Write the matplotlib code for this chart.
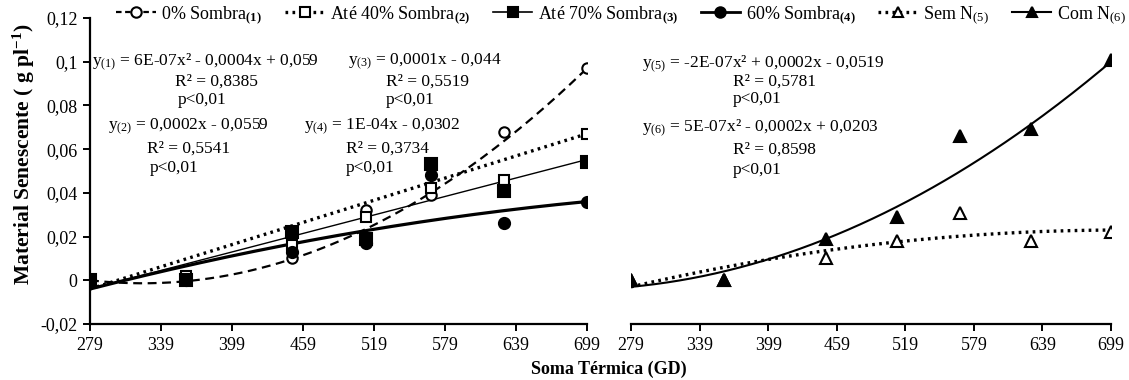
import numpy as np
import matplotlib
matplotlib.use("Agg")
import matplotlib.pyplot as plt
from matplotlib.lines import Line2D
from matplotlib.ticker import FuncFormatter, MultipleLocator

plt.rcParams["font.family"] = ["Liberation Serif", "DejaVu Serif"]
plt.rcParams["mathtext.fontset"] = "custom"
plt.rcParams["mathtext.rm"] = "Liberation Serif"
plt.rcParams["mathtext.it"] = "Liberation Serif:italic"
plt.rcParams["mathtext.bf"] = "Liberation Serif:bold"
plt.rcParams["axes.unicode_minus"] = False

# ── data ─────────────────────────────────────────────────────────────────────
soma_termica = [279, 360, 450, 512, 567, 629, 699]

sombra_0 = [0, 0, 0.010, 0.032, 0.039, 0.068, 0.097]
sombra_40 = [0, 0.002, 0.016, 0.029, 0.042, 0.046, 0.067]
sombra_70 = [0, 0, 0.022, 0.019, 0.053, 0.041, 0.054]
sombra_60 = [0, 0, 0.013, 0.017, 0.048, 0.026, 0.036]
sem_n = [0, 0, 0.010, 0.018, 0.031, 0.018, 0.022]
com_n = [0, 0, 0.019, 0.029, 0.066, 0.069, 0.101]

# trend line coefficients (x², x, 1) as drawn in the chart
# (the printed equations are rounded, these follow the drawn curves)
fit_0 = [6.975e-7, -4.512e-4, 0.0716]
fit_40 = [1.69e-4, -0.0511]
fit_70 = [1.41e-4, -0.0433]
fit_60 = [-1.032e-7, 1.962e-4, -0.0507]
fit_sem_n = [-1.4125e-7, 2.0e-4, -0.0478]
fit_com_n = [4.682e-7, -2.1267e-4, 0.0199]

x_ticks = [279, 339, 399, 459, 519, 579, 639, 699]

eq_left = [
    ("y$_{(1)}$ = 6E-07x² - 0,0004x + 0,059", "R² = 0,8385", "p<0,01"),
    ("y$_{(2)}$ = 0,0002x - 0,0559", "R² = 0,5541", "p<0,01"),
    ("y$_{(3)}$ = 0,0001x - 0,044", "R² = 0,5519", "p<0,01"),
    ("y$_{(4)}$ = 1E-04x - 0,0302", "R² = 0,3734", "p<0,01"),
]
eq_right = [
    ("y$_{(5)}$ = -2E-07x² + 0,0002x - 0,0519", "R² = 0,5781", "p<0,01"),
    ("y$_{(6)}$ = 5E-07x² - 0,0002x + 0,0203", "R² = 0,8598", "p<0,01"),
]

W, H = 1129, 380
fig = plt.figure(figsize=(W / 100, H / 100), dpi=100)


def px(x0, y0, x1, y1):
    return [x0 / W, 1 - y1 / H, (x1 - x0) / W, (y1 - y0) / H]


ax1 = fig.add_axes(px(90, 18, 587, 324))
ax2 = fig.add_axes(px(631, 18, 1111, 324))

xs = np.array(soma_termica, dtype=float)
xf = np.linspace(279, 699, 200)


def trend(ax, coefs, **kw):
    ax.plot(xf, np.polyval(coefs, xf), color="black", zorder=2, **kw)


FS = 13
EQ_FS = 12.5
mk = dict(linestyle="none", markeredgecolor="black", markeredgewidth=1.5, zorder=3)
DOT = (0, (0.8, 1.3))

# left panel: shade levels
trend(ax1, fit_0, lw=1.6, dashes=(4, 2.5))
trend(ax1, fit_40, lw=2.4, linestyle=DOT)
trend(ax1, fit_70, lw=1.0)
trend(ax1, fit_60, lw=2.3)
ax1.plot(xs, sombra_0, marker="o", ms=7.5, markerfacecolor="white", **mk)
ax1.plot(xs, sombra_40, marker="s", ms=7.5, markerfacecolor="white", **mk)
ax1.plot(xs, sombra_60, marker="o", ms=8, markerfacecolor="black", **mk)
ax1.plot(xs, sombra_70, marker="s", ms=8, markerfacecolor="black", **mk)

# right panel: nitrogen
trend(ax2, fit_sem_n, lw=2.4, linestyle=DOT)
trend(ax2, fit_com_n, lw=1.5)
ax2.plot(xs, sem_n, marker="^", ms=8, markerfacecolor="white", **mk)
ax2.plot(xs, com_n, marker="^", ms=8, markerfacecolor="black", **mk)

fmt = FuncFormatter(lambda v, p: f"{round(v, 4):g}".replace(".", ","))
for ax in (ax1, ax2):
    ax.set_xlim(279, 699)
    ax.set_ylim(-0.02, 0.12)
    ax.set_xticks(x_ticks)
    ax.yaxis.set_major_locator(MultipleLocator(0.02))
    ax.yaxis.set_major_formatter(fmt)
    ax.spines[["top", "right"]].set_visible(False)
    ax.spines["bottom"].set_linewidth(1.6)
    ax.spines["left"].set_linewidth(1.6)
    ax.tick_params(direction="out", length=5, width=1.4, labelsize=FS, pad=4)
    ax.set_facecolor("none")

ax2.spines["left"].set_visible(False)
ax2.tick_params(axis="y", left=False, labelleft=False)


# equations
def put(x, y, s):
    fig.text(x / W, 1 - y / H, s, fontsize=EQ_FS, va="center", ha="left")


put(92, 62, eq_left[0][0]); put(175, 82, eq_left[0][1]); put(178, 100, eq_left[0][2])
put(108, 127, eq_left[1][0]); put(147, 149, eq_left[1][1]); put(150, 168, eq_left[1][2])
put(348, 62, eq_left[2][0]); put(386, 82, eq_left[2][1]); put(386, 100, eq_left[2][2])
put(304, 127, eq_left[3][0]); put(346, 149, eq_left[3][1]); put(346, 168, eq_left[3][2])
put(642, 64, eq_right[0][0]); put(733, 82, eq_right[0][1]); put(733, 99, eq_right[0][2])
put(642, 128, eq_right[1][0]); put(733, 150, eq_right[1][1]); put(733, 170, eq_right[1][2])

# axis labels
fig.text(24 / W, 1 - 154 / H, r"Material Senescente ( g pl$^{\mathbf{-1}}$)",
         rotation=90, fontsize=15.5, fontweight="bold", ha="center", va="center")
fig.text(609 / W, 1 - 369 / H, "Soma Térmica (GD)", fontsize=FS,
         fontweight="bold", ha="center", va="center")


# legend
def h(ls, lw, marker, face):
    return Line2D([], [], color="black", linestyle=ls, lw=lw, marker=marker,
                  ms=7.5, markerfacecolor=face, markeredgecolor="black",
                  markeredgewidth=1.5)


handles = [
    h((0, (2.5, 1.6)), 1.6, "o", "white"),
    h(DOT, 2.4, "s", "white"),
    h("-", 1.2, "s", "black"),
    h("-", 2.0, "o", "black"),
    h(DOT, 2.4, "^", "white"),
    h("-", 1.5, "^", "black"),
]
labels = [
    r"0% Sombra$_{\mathbf{(1)}}$",
    r"Até 40% Sombra$_{\mathbf{(2)}}$",
    r"Até 70% Sombra$_{\mathbf{(3)}}$",
    r"60% Sombra$_{\mathbf{(4)}}$",
    r"Sem N$_{(5)}$",
    r"Com N$_{(6)}$",
]
fig.legend(handles, labels, loc="center", bbox_to_anchor=(621 / W, 1 - 15 / H),
           ncol=6, frameon=False, fontsize=FS, handlelength=2.2,
           handletextpad=0.3, columnspacing=1.25, borderpad=0)

fig.savefig("out.png", dpi=100)
